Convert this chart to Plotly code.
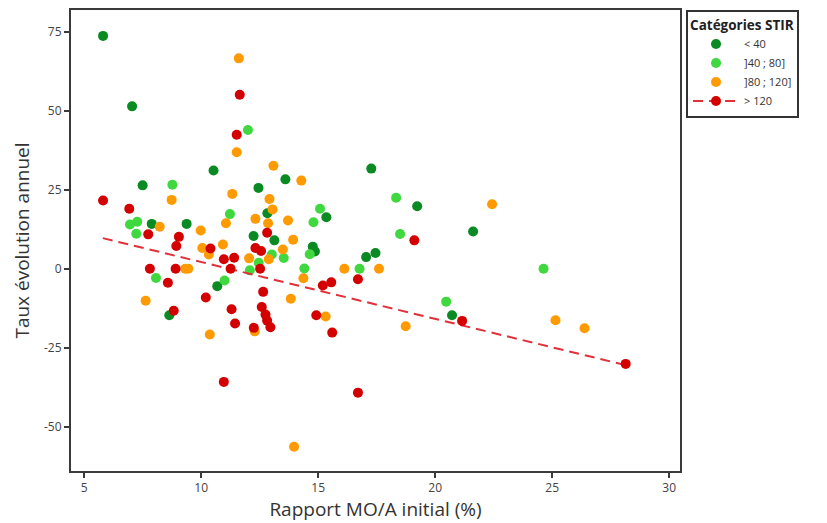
import plotly.graph_objects as go

# < 40
dg_x = [5.81, 7.05, 10.53, 13.6, 7.5, 12.45, 12.83, 15.35, 7.89, 9.38, 12.24, 13.13, 14.77, 14.86,
        10.69, 8.64, 17.27, 17.45, 17.05, 19.23, 21.62, 20.72]
dg_y = [73.7, 51.4, 31.1, 28.3, 26.4, 25.6, 17.6, 16.3, 14.2, 14.2, 10.4, 9.0, 7.0, 5.5,
        -5.5, -14.7, 31.7, 5.0, 3.7, 19.8, 11.8, -14.7]

# ]40 ; 80]
lg_x = [12.0, 8.77, 11.23, 15.08, 14.8, 6.96, 7.27, 7.23, 14.64, 13.02, 13.53, 12.46, 12.08, 14.41,
        8.07, 11.0, 18.33, 18.5, 16.77, 24.63, 20.47]
lg_y = [43.9, 26.6, 17.3, 19.0, 14.7, 14.0, 14.9, 11.1, 4.6, 4.5, 3.4, 1.9, -0.5, 0.1,
        -2.9, -3.7, 22.5, 11.0, 0.0, 0.0, -10.4]

# ]80 ; 120]
or_x = [11.61, 11.52, 13.09, 14.28, 8.74, 11.33, 12.92, 13.05, 12.32, 12.86, 13.71, 11.06, 8.23, 9.98,
        13.93, 10.93, 10.05, 10.33, 13.49, 12.05, 12.89, 9.32, 9.45, 14.37, 13.83, 7.63, 15.32, 12.29,
        10.37, 16.12, 17.6, 22.43, 18.74, 25.14, 26.38, 13.97]
or_y = [66.6, 36.9, 32.6, 27.9, 21.8, 23.7, 22.1, 18.8, 15.8, 14.4, 15.3, 14.4, 13.3, 12.1,
        9.2, 7.7, 6.6, 4.5, 6.1, 3.3, 3.0, 0.0, 0.0, -3.0, -9.5, -10.1, -15.1, -19.8,
        -20.8, 0.0, 0.0, 20.4, -18.2, -16.3, -18.8, -56.3]

# > 120
rd_x = [11.65, 11.52, 5.81, 6.93, 7.74, 12.82, 9.05, 8.94, 10.4, 12.32, 12.56, 10.97, 11.41, 11.26,
        7.81, 8.91, 12.52, 8.58, 12.65, 15.2, 10.2, 11.3, 12.59, 14.92, 8.83, 12.75, 11.45, 12.82,
        12.25, 12.96, 15.6, 10.97, 15.56, 16.7, 19.11, 21.15, 28.14, 16.7]
rd_y = [55.1, 42.4, 21.6, 19.0, 10.9, 11.4, 10.1, 7.2, 6.4, 6.6, 5.6, 3.0, 3.5, 0.0,
        0.0, 0.0, 0.0, -4.4, -7.3, -5.3, -9.1, -12.8, -12.1, -14.7, -13.3, -14.5, -17.3, -16.4,
        -18.7, -18.5, -20.2, -35.8, -4.3, -3.3, 9.0, -16.5, -30.1, -39.2]

# fitted trend line for > 120 (end points)
fit_x = [5.8, 28.14]
fit_y = [9.7, -30.5]

x_ticks = [5, 10, 15, 20, 25, 30]
y_ticks = [-50, -25, 0, 25, 50, 75]

C_DG = "#0a8a22"
C_LG = "#3fd83f"
C_OR = "#ff9a00"
C_RD = "#d40000"

fig = go.Figure()

def pts(x, y, color, name, show=True):
    return go.Scatter(x=x, y=y, mode="markers", name=name, showlegend=show,
                      marker=dict(size=10, color=color, line=dict(width=0)),
                      legendgroup=name)

fig.add_trace(pts(dg_x, dg_y, C_DG, "< 40"))
fig.add_trace(pts(lg_x, lg_y, C_LG, "]40 ; 80]"))
fig.add_trace(pts(or_x, or_y, C_OR, "]80 ; 120]"))
# trend line trace carrying the legend entry (line + marker)
fig.add_trace(go.Scatter(x=[None] + fit_x, y=[None] + fit_y, mode="lines+markers", name="> 120",
                         legendgroup="> 120",
                         line=dict(color="#e0303a", width=2, dash="10px,6px"),
                         marker=dict(size=10, color=[C_RD, "rgba(0,0,0,0)", "rgba(0,0,0,0)"],
                                     line=dict(width=0))))
fig.add_trace(pts(rd_x, rd_y, C_RD, "> 120", show=False))

font_family = "Open Sans, DejaVu Sans, sans-serif"

fig.update_layout(
    width=827, height=523,
    margin=dict(l=71, r=147, t=10, b=52, autoexpand=False),
    paper_bgcolor="white", plot_bgcolor="white",
    font=dict(family=font_family, color="#333333", size=11),
    legend=dict(
        x=1.0099, y=1.0, xanchor="left", yanchor="top",
        bordercolor="#333333", borderwidth=2, bgcolor="white",
        title=dict(text="<b>Catégories STIR</b>", font=dict(size=13.5, color="#222222")),
        font=dict(size=11, color="#333333"),
        tracegroupgap=0, itemwidth=46, entrywidth=106, entrywidthmode="pixels",
    ),
    xaxis=dict(
        range=[4.44, 30.46], tickvals=x_ticks, ticktext=[str(v) for v in x_ticks],
        showgrid=False, zeroline=False, showline=True, mirror=True, linecolor="#3a3a3a", linewidth=2,
        ticks="outside", ticklen=5, tickwidth=1.5, tickcolor="#3a3a3a",
        tickfont=dict(size=12, color="#444444"),
        title=dict(text="Rapport MO/A initial (%)", font=dict(size=19, color="#333333"), standoff=5),
    ),
    yaxis=dict(
        range=[-64.0, 81.9], tickvals=y_ticks, ticktext=[str(v) for v in y_ticks],
        showgrid=False, zeroline=False, showline=True, mirror=True, linecolor="#3a3a3a", linewidth=2,
        ticks="outside", ticklen=5, tickwidth=1.5, tickcolor="#3a3a3a",
        tickfont=dict(size=12, color="#444444"),
        title=dict(text="Taux évolution annuel", font=dict(size=19, color="#333333"), standoff=9),
    ),
)

fig.write_html("out.html")
